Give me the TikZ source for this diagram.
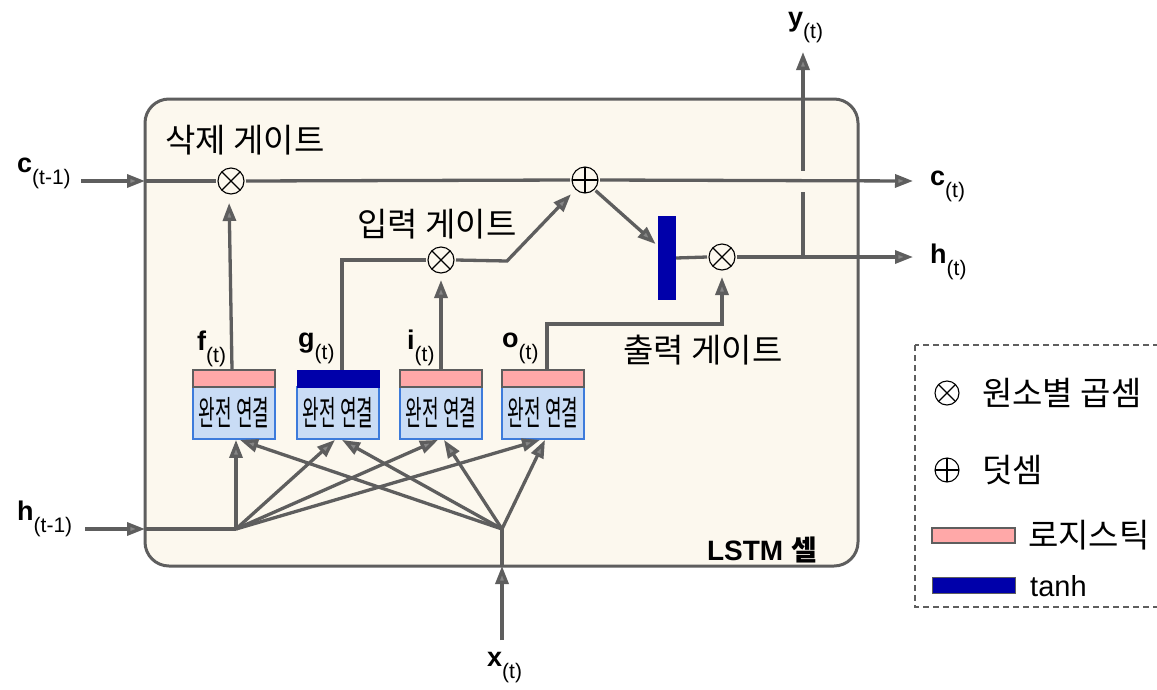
\documentclass[tikz,border=0pt]{standalone}
\usepackage{fontspec}
\setmainfont{Liberation Sans}
\newfontfamily\kr{Noto Sans CJK KR}
\newfontfamily\krc[FakeStretch=0.53]{Noto Sans CJK KR}
\usetikzlibrary{arrows.meta}
\definecolor{cellfill}{HTML}{FCF8EE}
\definecolor{linegray}{HTML}{5E5E5E}
\definecolor{boxblue}{HTML}{C9DCF5}
\definecolor{boxedge}{HTML}{3D7BDB}
\definecolor{pinkc}{HTML}{FFA8A8}
\definecolor{navyc}{HTML}{0000AA}
\newcommand\vlab[2]{\textbf{#1}\raisebox{-12pt}{\fontsize{21pt}{21pt}\selectfont(#2)}}
\tikzset{
  conn/.style={draw=linegray, line width=3.3pt},
  arr/.style={conn, -{Triangle[length=18pt,width=13pt,fill=linegray!75]}},
  mult/.style={circle, draw=black, line width=1.1pt, minimum size=26pt, inner sep=0pt, outer sep=2pt, fill=cellfill,
    path picture={\draw[line width=1.1pt] (path picture bounding box.north west) -- (path picture bounding box.south east)
      (path picture bounding box.north east) -- (path picture bounding box.south west);}},
  add/.style={circle, draw=black, line width=1.1pt, minimum size=26pt, inner sep=0pt, outer sep=2pt, fill=cellfill,
    path picture={\draw[line width=1.1pt] (path picture bounding box.north) -- (path picture bounding box.south)
      (path picture bounding box.east) -- (path picture bounding box.west);}},
  fcbox/.style={rectangle, draw=boxedge, line width=1.8pt, fill=boxblue, minimum width=82pt, minimum height=52pt, inner sep=0pt,
    font=\krc\fontsize{34pt}{34pt}\selectfont},
  sigbar/.style={rectangle, draw=linegray, line width=1.2pt, fill=pinkc, minimum width=82pt, minimum height=17pt, inner sep=0pt},
  tanhbar/.style={rectangle, draw=navyc, line width=1pt, fill=navyc, minimum width=82pt, minimum height=17pt, inner sep=0pt},
  vlabel/.style={anchor=base west, inner sep=0pt, font=\fontsize{27pt}{27pt}\selectfont},
  kor/.style={inner sep=0pt, font=\kr\fontsize{33pt}{33pt}\selectfont},
}
\begin{document}
\begin{tikzpicture}[x=1pt, y=-1pt]
\useasboundingbox (0,0) rectangle (1157,689);
% cell
\node[draw=linegray, line width=3pt, fill=cellfill, rounded corners=24pt, minimum width=713pt, minimum height=467pt, inner sep=0pt] (cell) at (501.5,332.5) {};
\node[anchor=east, inner sep=0pt] (celltxt) at (817,550) {\fontsize{28pt}{28pt}\selectfont\textbf{LSTM} {\kr\bfseries 셀}};
\node[kor] (forgettxt) at (245,140) {삭제 게이트};
\node[kor] (inputtxt) at (437,224) {입력 게이트};
\node[kor] (outputtxt) at (703,350) {출력 게이트};

% fully connected boxes
\node[fcbox] (fb) at (234,413) {완전 연결};
\node[fcbox] (gb) at (338,413) {완전 연결};
\node[fcbox] (ib) at (441,413) {완전 연결};
\node[fcbox] (ob) at (543,413) {완전 연결};
\node[sigbar] (fbar) at (234,378.5) {};
\node[tanhbar] (gbar) at (338,378.5) {};
\node[sigbar] (ibar) at (441,378.5) {};
\node[sigbar] (obar) at (543,378.5) {};
\node[vlabel] (fl) at (197,350) {\vlab{f}{t}};
\node[vlabel] (gl) at (298,347) {\vlab{g}{t}};
\node[vlabel] (il) at (407,349) {\vlab{i}{t}};
\node[vlabel] (ol) at (502,347) {\vlab{o}{t}};

% operators
\node[mult] (fx) at (231,181) {};
\node[add] (plus) at (585,180) {};
\node[mult] (ix) at (441,260) {};
\node[mult] (ox) at (722,257) {};
\node[rectangle, fill=navyc, minimum width=18pt, minimum height=84pt, inner sep=0pt] (tb) at (667,258) {};

% coordinates
\coordinate (cin0) at (81,181);
\coordinate (cinb) at (145,181);
\coordinate (cout) at (913,181);
\coordinate (hin0) at (85,529);
\coordinate (hinb) at (145,529);
\coordinate (hh) at (236,529);
\coordinate (xin0) at (502,640);
\coordinate (xinb) at (502,566);
\coordinate (xh) at (502,529);
\coordinate (hout) at (913,257);
\coordinate (yj) at (803,257);
\coordinate (ytop) at (803,52);
\coordinate (ik) at (507,261);
\coordinate (ok) at (722,324);

% outer labels
\node[vlabel] (cl0) at (17,172) {\vlab{c}{t-1}};
\node[vlabel] (hl0) at (17,520) {\vlab{h}{t-1}};
\node[vlabel] (xl) at (487,666) {\vlab{x}{t}};
\node[vlabel] (cl) at (930,185) {\vlab{c}{t}};
\node[vlabel] (hl) at (930,263) {\vlab{h}{t}};
\node[vlabel] (yl) at (788,26) {\vlab{y}{t}};

% y output with gap at c line
\draw[arr] (yj) -- (ytop);
\fill[cellfill] (795,171) rectangle (811,192);

% cell state line
\draw[arr] (cin0) -- (cinb);
\draw[conn] (cinb) -- (fx.west);
\draw[conn] (fx.east) -- (plus.west);
\draw[arr] (plus.east) -- (cout);

% gates
\draw[arr, shorten >=7pt] ([xshift=-2pt]fbar.north) -- ([xshift=-2pt]fx.south);
\draw[conn] ([xshift=4pt]gbar.north) |- (ix.west);
\draw[arr, shorten >=5pt] (ibar.north) -- (ix.south);
\draw[arr, shorten >=5pt] (ix.east) -- (ik) -- (plus.south west);
\draw[arr, shorten >=3pt] (plus.south east) -- ([yshift=12pt]tb.west);
\draw[conn] (tb.east) -- (ox.west);
\draw[arr] (ox.east) -- (hout);
\draw[arr, shorten >=5pt] ([xshift=4pt]obar.north) |- (ok) -- (ox.south);

% inputs
\draw[arr] (hin0) -- (hinb);
\draw[conn] (hinb) -- (hh);
\draw[arr] (xin0) -- (xinb);
\draw[conn] (xinb) -- (xh);

% fan
\draw[arr] (hh) -- (hh |- fb.south);
\draw[arr] (hh) -- ([xshift=-3pt]gb.south);
\draw[arr] (hh) -- ([xshift=-3pt]ib.south);
\draw[arr] (hh) -- ([xshift=-3pt]ob.south);
\draw[arr] (xh) -- ([xshift=6pt]fb.south);
\draw[arr] (xh) -- ([xshift=4pt]gb.south);
\draw[arr] (xh) -- ([xshift=3pt]ib.south);
\draw[arr] (xh) -- ([xshift=2pt]ob.south);

% legend
\draw[draw=linegray, line width=1.5pt, dash pattern=on 6pt off 4pt] (915,345) rectangle (1175,607);
\node[mult, minimum size=24pt, fill=white] (lgx) at (947,393) {};
\node[kor, anchor=west] (lgxt) at (982,393) {원소별 곱셈};
\node[add, minimum size=24pt, fill=white] (lgp) at (947,470) {};
\node[kor, anchor=west] (lgpt) at (982,470) {덧셈};
\node[sigbar, minimum width=83pt, minimum height=15pt] (lgs) at (973.5,535.5) {};
\node[kor, anchor=west] (lgst) at (1028,535) {로지스틱};
\node[tanhbar, minimum width=83pt, minimum height=16pt, draw=linegray] (lgt) at (973.5,585) {};
\node[vlabel, anchor=west, font=\fontsize{29pt}{29pt}\selectfont] (lgtt) at (1030,586) {tanh};
\end{tikzpicture}
\end{document}
